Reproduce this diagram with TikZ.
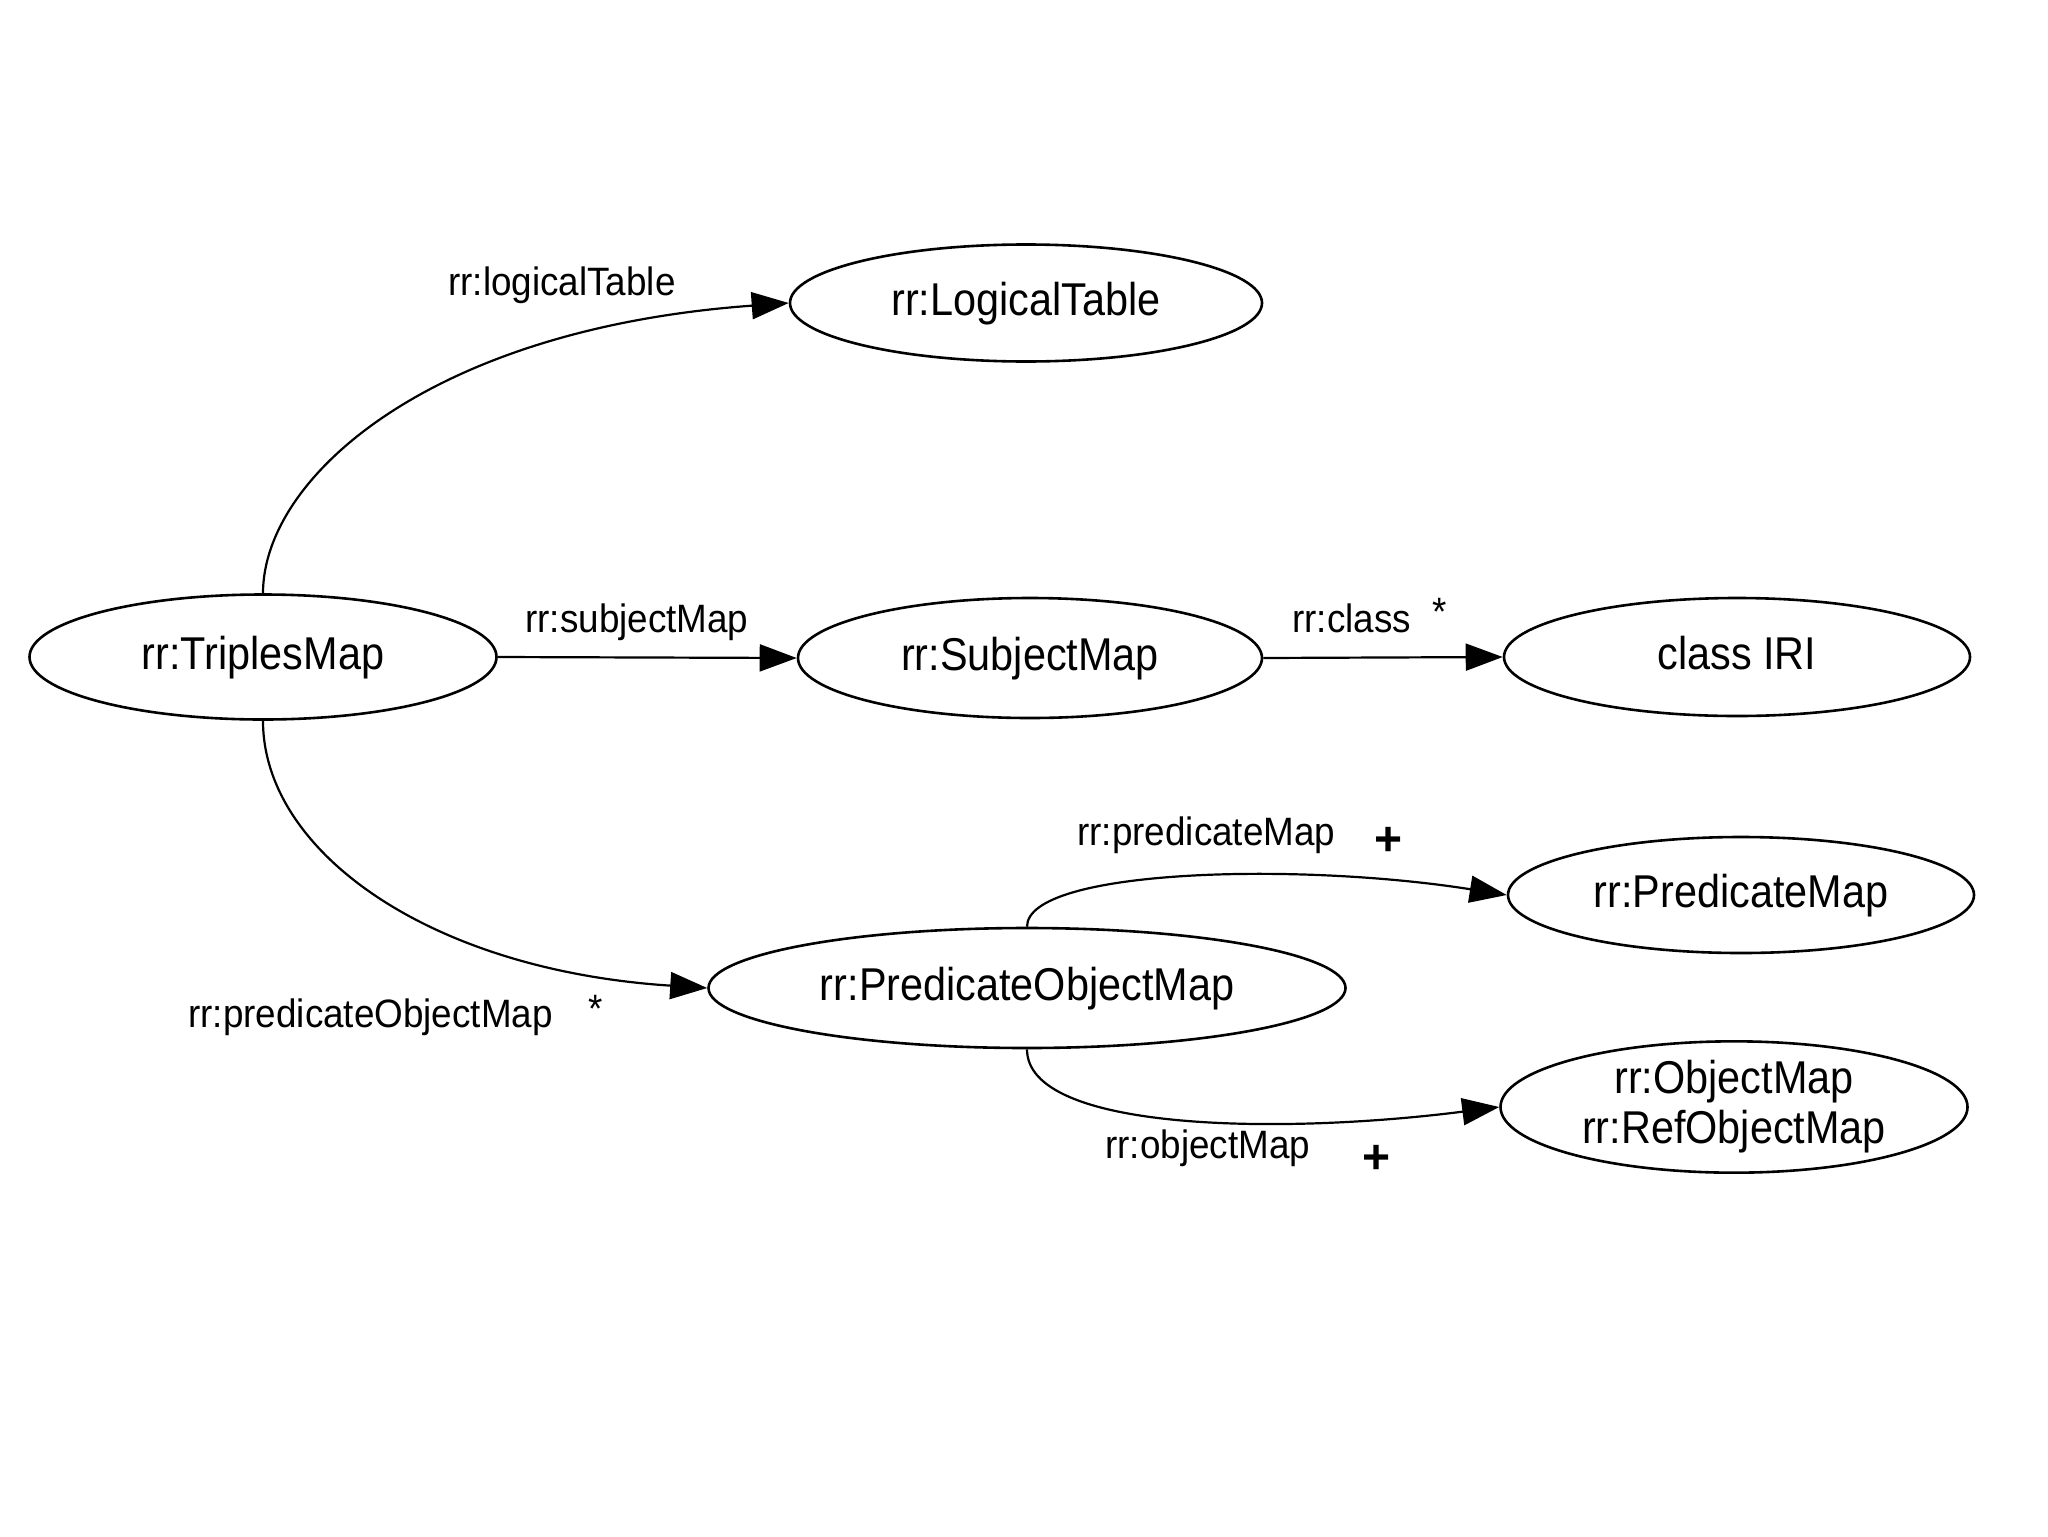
\documentclass[tikz,border=0pt]{standalone}
\usepackage{fontspec}
\setmainfont{Liberation Sans}
\newfontfamily\nodefont{Liberation Sans}[FakeStretch=0.9]
\newfontfamily\labfont{Liberation Sans}[FakeStretch=0.93]
\usetikzlibrary{shapes.geometric,arrows.meta}
\begin{document}
\begin{tikzpicture}[x=0.5pt,y=-0.5pt,
  ellbase/.style={ellipse,draw,line width=1.3pt,inner sep=0pt,font=\nodefont\fontsize{23pt}{25pt}\selectfont},
  ell/.style={ellbase,text height=1.2em,text depth=0pt},
  conn/.style={line width=1.1pt,-{Triangle[length=18.5pt,width=13.5pt]}},
  elab/.style={anchor=base west,inner sep=0pt,font=\labfont\fontsize{19.8pt}{22pt}\selectfont},
  mult/.style={anchor=base,inner sep=0pt,font=\labfont\fontsize{19.8pt}{22pt}\selectfont},
  plus/.style={anchor=base,inner sep=0pt,font=\fontsize{24pt}{26pt}\selectfont\bfseries}]
\useasboundingbox (0,0) rectangle (2048,1536);
\fill[white] (0,0) rectangle (2048,1536);
% nodes
\node[ell,minimum width=233.5pt,minimum height=62.5pt] (tm) at (263,657) {rr:TriplesMap};
\node[ell,minimum width=236pt,minimum height=58.5pt] (lt) at (1026,303) {rr:LogicalTable};
\node[ell,minimum width=232pt,minimum height=60pt] (sm) at (1030,658) {rr:SubjectMap};
\node[ell,minimum width=233pt,minimum height=59pt] (iri) at (1737,657) {class IRI};
\node[ell,minimum width=318.5pt,minimum height=60pt] (pom) at (1027,988) {rr:PredicateObjectMap};
\node[ell,minimum width=233pt,minimum height=58pt] (pm) at (1741,895) {rr:PredicateMap};
\node[ellbase,align=center,minimum width=233.5pt,minimum height=59.5pt] (om) at (1734,1107) {rr:ObjectMap\\rr:RefObjectMap};
% connectors
\draw[conn] (tm.north) .. controls +(0,-115) and +(-360,26) .. (lt.west);
\draw[conn] (tm.east) -- (sm.west);
\draw[conn] (sm.east) -- (iri.west);
\draw[conn] (tm.south) .. controls +(0,130) and +(-279,-18) .. (pom.west);
\draw[conn] (pom.north) .. controls +(0,-58) and +(-208,-33) .. (pm.west);
\draw[conn] (pom.south) .. controls +(0,82) and +(-220,28) .. (om.west);
% labels
\node[elab] (l1) at (448,295) {rr:logicalTable};
\node[elab] (l2) at (525,632) {rr:subjectMap};
\node[elab] (l3) at (1292,632) {rr:class};
\node[mult] (s1) at (1440,625) {*};
\node[elab] (l4) at (188,1027) {rr:predicateObjectMap};
\node[mult] (s2) at (596,1022) {*};
\node[elab] (l5) at (1077,845) {rr:predicateMap};
\node[plus] (p1) at (1388,855) {+};
\node[elab] (l6) at (1105,1158) {rr:objectMap};
\node[plus] (p2) at (1376,1173) {+};
\end{tikzpicture}
\end{document}
